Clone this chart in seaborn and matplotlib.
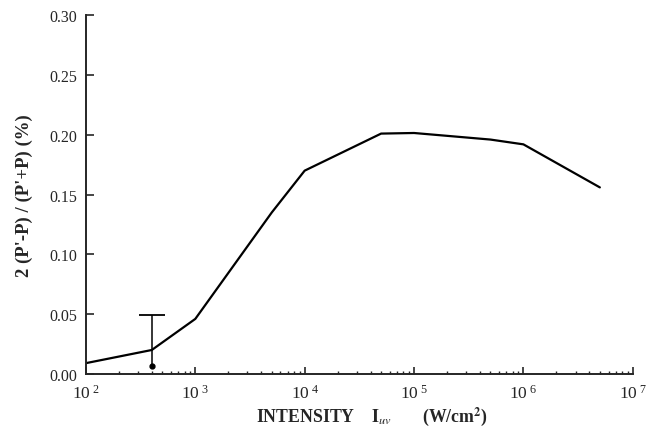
import numpy as np
import matplotlib
matplotlib.use("Agg")
import matplotlib.pyplot as plt
import seaborn as sns
from matplotlib.ticker import LogLocator, FuncFormatter, MultipleLocator, FormatStrFormatter, NullFormatter

# values
intensity = [1e2, 4e2, 1e3, 5e3, 1e4, 5e4, 1e5, 5e5, 1e6, 5e6]
asymmetry = [0.009, 0.020, 0.046, 0.135, 0.170, 0.201, 0.2015, 0.196, 0.192, 0.156]

# single error bar (dot with upper limit)
err_x = [4e2]
err_low = [0.0065]
err_high = [0.049]

sns.set_style("ticks")
plt.rcParams["font.family"] = ["Liberation Serif", "DejaVu Serif"]
plt.rcParams["mathtext.fontset"] = "stix"

fig = plt.figure(figsize=(6.51, 4.27), dpi=100)
ax = fig.add_axes([0.132, 0.122, 0.840, 0.840])

sns.lineplot(x=intensity, y=asymmetry, color="black", linewidth=1.6, ax=ax)
ax.vlines(err_x, err_low, err_high, color="black", linewidth=1.1)
ax.plot(err_x, err_high, marker="_", markersize=19, markeredgewidth=1.3,
        color="black", linestyle="none")
ax.plot(err_x, err_low, marker="o", markersize=3.5, color="black", linestyle="none")

ax.set_xscale("log")
ax.set_xlim(1e2, 1e7)
ax.set_ylim(0, 0.30)

ax.xaxis.set_major_locator(LogLocator(base=10, numticks=10))
ax.xaxis.set_minor_locator(LogLocator(base=10, subs=np.arange(2, 10), numticks=100))
ax.xaxis.set_minor_formatter(NullFormatter())
ax.xaxis.set_major_formatter(FuncFormatter(
    lambda v, p: r"$\mathregular{10^{\ %d}}$" % int(round(np.log10(v)))))
ax.yaxis.set_major_locator(MultipleLocator(0.05))
ax.yaxis.set_major_formatter(FormatStrFormatter("%.2f"))

ax.tick_params(axis="x", which="major", direction="in", length=5, width=1.2,
               labelsize=12.5, pad=7)
ax.tick_params(axis="x", which="minor", direction="in", length=2.5, width=1.0)
ax.tick_params(axis="y", which="major", direction="in", length=6, width=1.2,
               labelsize=11.5, pad=6)

for side in ["left", "bottom"]:
    ax.spines[side].set_linewidth(1.4)
sns.despine(ax=ax)

ax.set_xlabel(r"INTENSITY    $\mathbf{I}_{\mathit{uv}}$       (W/cm$^{\mathbf{2}}$)",
              fontsize=12.8, fontweight="bold", labelpad=2)
ax.xaxis.label.set_x(0.523)
ax.set_ylabel("2 (P'-P) / (P'+P) (%)", fontsize=13.5, fontweight="bold", labelpad=12)

fig.savefig("out.png", dpi=100)
